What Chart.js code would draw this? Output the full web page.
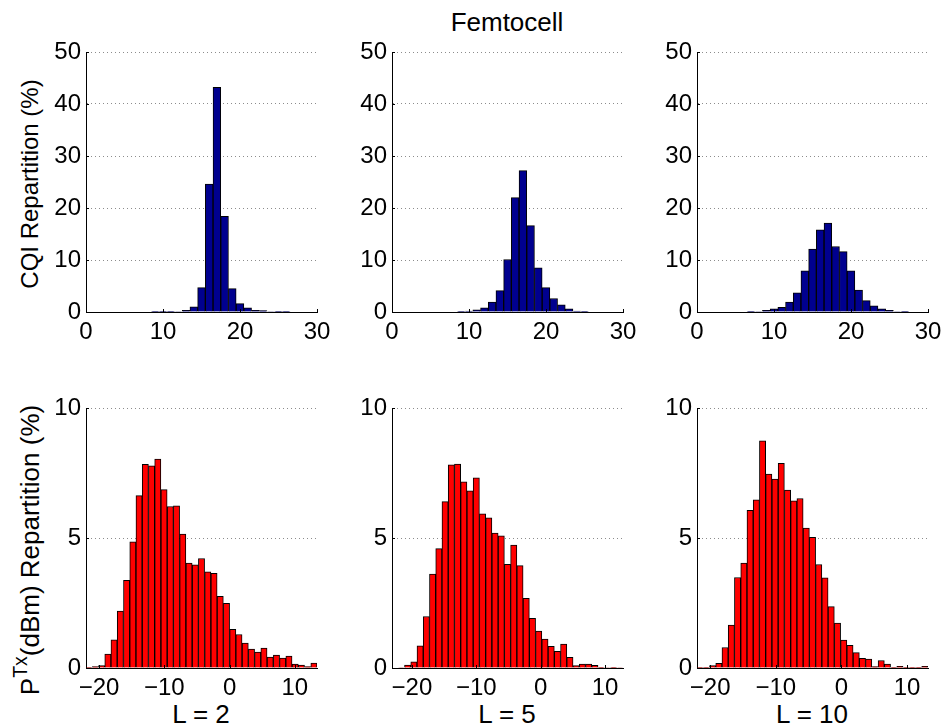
<!DOCTYPE html>
<html>
<head>
<meta charset="utf-8">
<script src="https://cdn.jsdelivr.net/npm/chart.js@4"></script>
<style>
  html, body { margin: 0; padding: 0; background: #fff; overflow: hidden; }
  #fig { position: relative; width: 942px; height: 727px; font-family: "Liberation Sans", Arial, sans-serif; color: #000; }
  #fig canvas { position: absolute; }
  .txt { position: absolute; white-space: nowrap; line-height: 1; transform: translate(-50%, -50%); }
  .ylab { transform: translate(-50%, -50%) rotate(-90deg); }
  sup { font-size: 75%; vertical-align: 0.6em; line-height: 0; }
</style>
</head>
<body>
<div id="fig">
  <div class="txt" style="left:507px; top:22px; font-size:26px;">Femtocell</div>
  <div class="txt ylab" style="left:30px; top:184px; font-size:24px;">CQI Repartition (%)</div>
  <div class="txt ylab" style="left:30px; top:550px; font-size:26px;">P<sup>Tx</sup>(dBm) Repartition (%)</div>
  <div class="txt" style="left:201px; top:714px; font-size:26px;">L = 2</div>
  <div class="txt" style="left:507px; top:714px; font-size:26px;">L = 5</div>
  <div class="txt" style="left:812px; top:714px; font-size:26px;">L = 10</div>
</div>
<script>
// CQI histograms (top row), bins centred on integers
const cqiBins = [0, 1, 2, 3, 4, 5, 6, 7, 8, 9, 10, 11, 12, 13, 14, 15, 16, 17, 18, 19, 20, 21, 22, 23, 24, 25, 26, 27, 28, 29, 30];
const cqiL2 = [0, 0, 0, 0, 0, 0, 0, 0, 0, 0.02, 0.05, 0.05, 0.1, 0.3, 1.0, 4.7, 24.6, 43.2, 18.4, 4.5, 1.6, 0.8, 0.3, 0.25, 0.1, 0.05, 0.02, 0, 0, 0, 0];
const cqiL5 = [0, 0, 0, 0, 0, 0, 0, 0, 0, 0.05, 0.2, 0.4, 0.8, 1.9, 4.1, 10.1, 22.0, 27.2, 16.6, 8.5, 4.7, 2.6, 1.4, 0.6, 0.2, 0.05, 0, 0, 0, 0, 0];
const cqiL10 = [0, 0, 0, 0, 0, 0, 0, 0.05, 0.1, 0.3, 0.6, 0.9, 1.9, 3.7, 7.9, 12.1, 15.8, 17.1, 12.6, 11.6, 7.9, 4.2, 2.2, 1.2, 0.6, 0.3, 0.1, 0.05, 0, 0, 0];

// Tx power histograms (bottom row), bin centres in dBm
const ptxBinsL2 = [-21.52, -20.57, -19.61, -18.65, -17.70, -16.74, -15.78, -14.82, -13.87, -12.91, -11.95, -11.00, -10.04, -9.08, -8.13, -7.17, -6.21, -5.25, -4.30, -3.34, -2.38, -1.43, -0.47, 0.49, 1.44, 2.40, 3.36, 4.31, 5.27, 6.23, 7.19, 8.14, 9.10, 10.06, 11.01, 11.97, 12.93];
const ptxL2 = [0.03, 0.05, 0.09, 0.54, 1.08, 2.19, 3.37, 4.85, 6.63, 7.83, 7.78, 8.04, 6.86, 6.21, 6.24, 5.15, 4.04, 3.97, 4.21, 3.70, 3.64, 2.76, 2.49, 1.49, 1.29, 0.96, 0.73, 0.61, 0.77, 0.42, 0.50, 0.38, 0.46, 0.15, 0.11, 0.05, 0.19];
const ptxBinsL5 = [-22.61, -21.64, -20.67, -19.70, -18.73, -17.76, -16.79, -15.82, -14.85, -13.88, -12.91, -11.94, -10.97, -10.00, -9.03, -8.06, -7.09, -6.12, -5.15, -4.18, -3.21, -2.24, -1.27, -0.30, 0.67, 1.64, 2.61, 3.58, 4.55, 5.52, 6.49, 7.46, 8.43, 9.40, 10.37, 11.34, 12.31];
const ptxL5 = [0, 0.02, 0.11, 0.24, 0.85, 1.98, 3.61, 4.59, 6.40, 7.81, 7.84, 7.16, 6.81, 7.31, 5.93, 5.78, 5.19, 5.08, 3.99, 4.73, 3.94, 2.68, 1.91, 1.42, 1.11, 0.83, 0.64, 0.92, 0.41, 0.09, 0.15, 0.15, 0.10, 0.03, 0.02, 0.01, 0.02];
const ptxBinsL10 = [-21.52, -20.57, -19.62, -18.67, -17.72, -16.77, -15.82, -14.86, -13.91, -12.96, -12.01, -11.06, -10.11, -9.16, -8.20, -7.25, -6.30, -5.35, -4.40, -3.45, -2.50, -1.55, -0.59, 0.36, 1.31, 2.26, 3.21, 4.16, 5.11, 6.07, 7.02, 7.97, 8.92, 9.87, 10.82, 11.77, 12.72];
const ptxL10 = [0.01, 0.01, 0.09, 0.18, 0.79, 1.65, 3.48, 4.04, 6.06, 6.47, 8.74, 7.46, 7.27, 7.87, 6.84, 6.43, 6.52, 5.38, 5.03, 3.98, 3.47, 2.36, 1.73, 1.07, 0.87, 0.59, 0.37, 0.34, 0.05, 0.29, 0.15, 0.03, 0.06, 0.01, 0.01, 0.01, 0.06];

const cqiXTicks = [0, 10, 20, 30];
const ptxXTicks = [-20, -10, 0, 10];

const FONT = '"Liberation Sans", Arial, sans-serif';
const PLOT_W = 231, PLOT_H = 260;
const YAX_W = 60, XAX_H = 44, PAD_T = 16, PAD_R = 16;

const panels = [
    { left: 86,  top: 52,  bins: cqiBins,    vals: cqiL2,  color: '#00008f', xmin: 0,     xmax: 30,   xticks: cqiXTicks, ymax: 50, ystep: 10 },
    { left: 392, top: 52,  bins: cqiBins,    vals: cqiL5,  color: '#00008f', xmin: 0,     xmax: 30,   xticks: cqiXTicks, ymax: 50, ystep: 10 },
    { left: 697, top: 52,  bins: cqiBins,    vals: cqiL10, color: '#00008f', xmin: 0,     xmax: 30,   xticks: cqiXTicks, ymax: 50, ystep: 10 },
    { left: 86,  top: 408, bins: ptxBinsL2,  vals: ptxL2,  color: '#ff0000', xmin: -22.0, xmax: 13.4, xticks: ptxXTicks, ymax: 10, ystep: 5 },
    { left: 392, top: 408, bins: ptxBinsL5,  vals: ptxL5,  color: '#ff0000', xmin: -23.1, xmax: 12.8, xticks: ptxXTicks, ymax: 10, ystep: 5 },
    { left: 697, top: 408, bins: ptxBinsL10, vals: ptxL10, color: '#ff0000', xmin: -22.0, xmax: 13.2, xticks: ptxXTicks, ymax: 10, ystep: 5 }
];

// small inward tick marks like matlab axes
const inwardTicks = {
    id: 'inwardTicks',
    afterDraw(chart) {
        const { ctx, chartArea: a, scales: { x, y } } = chart;
        ctx.save();
        ctx.strokeStyle = '#000';
        ctx.lineWidth = 1;
        ctx.beginPath();
        x.ticks.forEach(t => {
            const px = Math.round(x.getPixelForValue(t.value)) + 0.5;
            ctx.moveTo(px, a.bottom);
            ctx.lineTo(px, a.bottom - 3);
        });
        y.ticks.forEach(t => {
            const py = Math.round(y.getPixelForValue(t.value)) + 0.5;
            ctx.moveTo(a.left, py);
            ctx.lineTo(a.left + 3, py);
        });
        ctx.stroke();
        ctx.restore();
    }
};

const fig = document.getElementById('fig');

panels.forEach(p => {
    const canvas = document.createElement('canvas');
    canvas.width = YAX_W + PLOT_W + PAD_R;
    canvas.height = PAD_T + PLOT_H + XAX_H;
    canvas.style.left = (p.left - YAX_W) + 'px';
    canvas.style.top = (p.top - PAD_T) + 'px';
    fig.appendChild(canvas);

    new Chart(canvas, {
        type: 'bar',
        data: {
            datasets: [{
                data: p.bins.map((b, i) => ({ x: b, y: p.vals[i] })),
                backgroundColor: p.color,
                borderColor: '#000',
                borderWidth: 1,
                barPercentage: 1,
                categoryPercentage: 1
            }]
        },
        options: {
            responsive: false,
            animation: false,
            devicePixelRatio: 1,
            layout: { padding: { top: PAD_T, right: PAD_R, left: 0, bottom: 0 } },
            plugins: { legend: { display: false }, tooltip: { enabled: false } },
            scales: {
                x: {
                    type: 'linear',
                    min: p.xmin,
                    max: p.xmax,
                    offset: false,
                    grid: { drawOnChartArea: false, drawTicks: false, offset: false },
                    border: { display: true, color: '#000', width: 1 },
                    ticks: {
                        color: '#000',
                        font: { family: FONT, size: 24 },
                        padding: 6,
                        maxRotation: 0,
                        autoSkip: false,
                        callback: v => (v < 0 ? '\u2212' + Math.abs(v) : String(v))
                    },
                    afterBuildTicks: s => { s.ticks = p.xticks.map(v => ({ value: v })); },
                    afterFit: s => { s.height = XAX_H; s.paddingLeft = 0; s.paddingRight = 0; }
                },
                y: {
                    min: 0,
                    max: p.ymax,
                    grid: { color: 'rgba(0,0,0,0.45)', drawTicks: false },
                    border: { display: true, color: '#000', width: 1, dash: [1, 3] },
                    ticks: {
                        stepSize: p.ystep,
                        color: '#000',
                        font: { family: FONT, size: 24 },
                        padding: 5
                    },
                    afterFit: s => { s.width = YAX_W; s.paddingTop = 0; s.paddingBottom = 0; }
                }
            }
        },
        plugins: [inwardTicks]
    });
});
</script>
</body>
</html>
